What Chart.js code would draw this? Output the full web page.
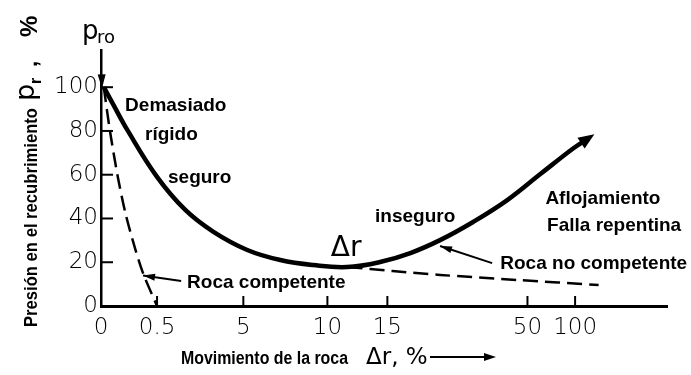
<!DOCTYPE html>
<html><head><meta charset="utf-8">
<script src="https://cdn.jsdelivr.net/npm/chart.js@4.4.1/dist/chart.umd.min.js"></script>
<style>html,body{margin:0;padding:0;background:#fff}#wrap{width:691px;height:375px;position:relative}</style>
</head><body><div id="wrap"><canvas id="c" width="691" height="375"></canvas></div>
<script>
// Axis: positions along the (non-linear) displacement axis and their labels
const tickLabels = ['0', '0.5', '5', '10', '15', '50', '100'];
const tickPos = [0, 1, 2.54, 4.04, 5.11, 7.61, 8.46];
const xMax = 10.1;
const yTicks = [0, 20, 40, 60, 80, 100];
const yMax = 117;

// Curva característica (línea continua)
const solidX = [0.05, 0.21, 0.48, 1.0, 1.5, 2.0, 2.61, 3.2, 3.79, 4.39, 4.98, 5.52, 6.05, 6.64, 7.25, 7.84, 8.43, 8.7];
const solidY = [100, 92.5, 80, 59, 44, 34, 25.6, 21, 18.7, 17.8, 20.1, 24.2, 30.1, 38.4, 48.4, 60.3, 72.1, 76.7];
// Roca competente (discontinua)
const compX = [0.05, 0.16, 0.3, 0.44, 0.6, 0.75, 1.0];
const compY = [100, 80, 59, 42, 27, 15, 0];
// Roca no competente (discontinua)
const ncX = [4.4, 5.2, 6.05, 7.43, 8.88];
const ncY = [17.8, 16, 14.2, 11.9, 9.6];

const zip = (xs, ys) => xs.map((x, i) => ({x: x, y: ys[i]}));

const BOLD = 'bold 19px "Liberation Sans", Arial, sans-serif';
const labels = [
  {t: 'Demasiado', x: 0.43, y: 91.3},
  {t: 'rígido', x: 0.786, y: 78.1},
  {t: 'seguro', x: 1.196, y: 58.5},
  {t: 'inseguro', x: 4.89, y: 40.6},
  {t: 'Aflojamiento', x: 7.93, y: 48.9},
  {t: 'Falla repentina', x: 7.96, y: 36.5},
  {t: 'Roca no competente', x: 7.125, y: 19.2},
  {t: 'Roca competente', x: 1.536, y: 10.5}
];
const pointers = [
  {from: [1.43, 11.4], to: [0.75, 13.9]},
  {from: [6.98, 19.6], to: [6.05, 27.4]}
];

function arrowHead(ctx, x1, y1, x2, y2, len, w) {
  const a = Math.atan2(y2 - y1, x2 - x1);
  ctx.save();
  ctx.translate(x2, y2);
  ctx.rotate(a);
  ctx.beginPath();
  ctx.moveTo(0, 0);
  ctx.lineTo(-len, -w / 2);
  ctx.lineTo(-len, w / 2);
  ctx.closePath();
  ctx.fill();
  ctx.restore();
}
// draw text condensed to a given width
function fillFit(ctx, text, x, y, width) {
  const w = ctx.measureText(text).width;
  ctx.save();
  ctx.translate(x, y);
  ctx.scale(Math.min(1, width / w), 1);
  ctx.fillText(text, 0, 0);
  ctx.restore();
}

const deco = {
  id: 'deco',
  beforeDraw(chart) {
    const c = chart.ctx;
    c.save(); c.fillStyle = '#fff'; c.fillRect(0, 0, chart.width, chart.height); c.restore();
  },
  afterDraw(chart) {
    const ctx = chart.ctx, xs = chart.scales.x, ys = chart.scales.y;
    const X = v => xs.getPixelForValue(v), Y = v => ys.getPixelForValue(v);
    ctx.save();
    ctx.fillStyle = '#000'; ctx.strokeStyle = '#000';
    // inward tick marks
    ctx.lineWidth = 2;
    tickPos.forEach((v, i) => {
      if (i === 0) return;
      ctx.beginPath(); ctx.moveTo(X(v), ys.bottom); ctx.lineTo(X(v), ys.bottom - 10); ctx.stroke();
    });
    yTicks.forEach(v => {
      if (v === 0) return;
      ctx.beginPath(); ctx.moveTo(xs.left, Y(v)); ctx.lineTo(xs.left + 12, Y(v)); ctx.stroke();
    });
    // p_ro arrow on the y axis
    arrowHead(ctx, X(0), Y(yMax), X(0) + 1, Y(99.5), 14, 8);
    ctx.font = '26px "DejaVu Sans", sans-serif';
    ctx.textBaseline = 'alphabetic'; ctx.textAlign = 'left';
    ctx.fillText('p', 82, 39);
    ctx.font = '18px "DejaVu Sans", sans-serif';
    ctx.fillText('ro', 97, 43);
    // end arrow of the solid curve
    const meta = chart.getDatasetMeta(0).data;
    const last = meta[meta.length - 1];
    let px = last.cp1x, py = last.cp1y;
    if (px === undefined || (px === last.x && py === last.y)) { px = meta[meta.length - 2].x; py = meta[meta.length - 2].y; }
    const ang = Math.atan2(last.y - py, last.x - px);
    arrowHead(ctx, px, py, last.x + 7 * Math.cos(ang), last.y + 7 * Math.sin(ang), 16, 13);
    // labels
    ctx.font = BOLD; ctx.textBaseline = 'middle';
    labels.forEach(l => ctx.fillText(l.t, X(l.x), Y(l.y)));
    ctx.font = '28px "DejaVu Sans", sans-serif';
    ctx.textBaseline = 'alphabetic';
    ctx.fillText('\u0394r', X(4.1), Y(23));
    // pointer arrows
    ctx.lineWidth = 2;
    pointers.forEach(p => {
      const x1 = X(p.from[0]), y1 = Y(p.from[1]), x2 = X(p.to[0]), y2 = Y(p.to[1]);
      ctx.beginPath(); ctx.moveTo(x1, y1); ctx.lineTo(x2, y2); ctx.stroke();
      arrowHead(ctx, x1, y1, x2, y2, 12, 7);
    });
    // x axis title
    ctx.font = 'bold 18px "Liberation Sans", Arial, sans-serif';
    fillFit(ctx, 'Movimiento de la roca', 181, 364, 167);
    ctx.font = '23px "DejaVu Sans", sans-serif';
    ctx.fillText('\u0394r, %', 366, 364);
    ctx.lineWidth = 2;
    ctx.beginPath(); ctx.moveTo(430, 357); ctx.lineTo(488, 357); ctx.stroke();
    arrowHead(ctx, 430, 357, 496, 357, 12, 8);
    // y axis title
    ctx.save();
    ctx.translate(37, 327); ctx.rotate(-Math.PI / 2);
    ctx.font = 'bold 18px "Liberation Sans", Arial, sans-serif';
    fillFit(ctx, 'Presión en el recubrimiento', 0, 0, 219);
    ctx.font = '27px "DejaVu Sans", sans-serif';
    ctx.fillText('p', 226, -3);
    ctx.font = 'bold 16px "Liberation Sans", Arial, sans-serif';
    ctx.fillText('r', 243, 4);
    ctx.font = 'bold 22px "Liberation Sans", Arial, sans-serif';
    ctx.fillText(',', 260, 0);
    ctx.font = 'bold 24px "Liberation Sans", Arial, sans-serif';
    ctx.fillText('%', 290, 0);
    ctx.restore();
    ctx.restore();
  }
};

new Chart(document.getElementById('c'), {
  type: 'scatter',
  data: {
    datasets: [
      {data: zip(solidX, solidY), showLine: true, borderColor: '#000', borderWidth: 4.5, pointRadius: 0, tension: 0.4, fill: false},
      {data: zip(compX, compY), showLine: true, borderColor: '#000', borderWidth: 2.5, borderDash: [15, 7], pointRadius: 0, tension: 0.3, fill: false},
      {data: zip(ncX, ncY), showLine: true, borderColor: '#000', borderWidth: 2.5, borderDash: [15, 7], pointRadius: 0, tension: 0.3, fill: false}
    ]
  },
  options: {
    responsive: false, animation: false, devicePixelRatio: 1,
    layout: {padding: {top: 50, right: 24, left: 0, bottom: 0}},
    plugins: {legend: {display: false}, tooltip: {enabled: false}, title: {display: false}},
    scales: {
      x: {
        type: 'linear', min: 0, max: xMax,
        afterBuildTicks: s => { s.ticks = tickPos.map(v => ({value: v})); },
        afterFit: s => { s.height = 69; },
        grid: {display: false, drawTicks: false},
        border: {display: true, color: '#000', width: 3},
        ticks: {
          autoSkip: false, maxRotation: 0, padding: 8, color: '#000',
          font: {family: '"DejaVu Sans", sans-serif', size: 23, weight: '300'},
          callback: (v, i) => tickLabels[i]
        }
      },
      y: {
        type: 'linear', min: 0, max: yMax,
        afterBuildTicks: s => { s.ticks = yTicks.map(v => ({value: v})); },
        afterFit: s => { s.width = 101; },
        grid: {display: false, drawTicks: false},
        border: {display: true, color: '#000', width: 2.5},
        ticks: {
          autoSkip: false, padding: 3, color: '#000',
          font: {family: '"DejaVu Sans", sans-serif', size: 23, weight: '300'},
          callback: (v) => String(v)
        }
      }
    }
  },
  plugins: [deco]
});
</script>
</body></html>
